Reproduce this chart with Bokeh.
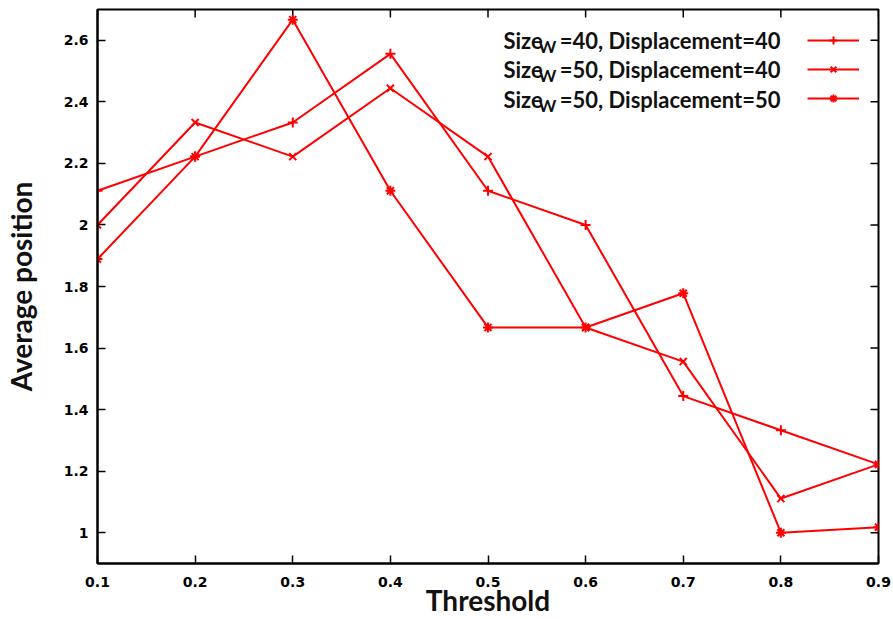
import math
from bokeh.plotting import figure
from bokeh.models import (Range1d, FixedTicker, CustomJSTickFormatter,
                          Label, Legend, LegendItem)
from bokeh.core.properties import value
from bokeh.embed import file_html
from bokeh.resources import INLINE

# ---- data ----
threshold = [0.1, 0.2, 0.3, 0.4, 0.5, 0.6, 0.7, 0.8, 0.9]
s40_d40 = [2.111, 2.222, 2.333, 2.556, 2.111, 2.000, 1.444, 1.333, 1.222]
s50_d40 = [2.000, 2.333, 2.222, 2.444, 2.222, 1.667, 1.556, 1.111, 1.222]
s50_d50 = [1.889, 2.222, 2.667, 2.111, 1.667, 1.667, 1.778, 1.000, 1.018]
x_ticks = [0.1, 0.2, 0.3, 0.4, 0.5, 0.6, 0.7, 0.8, 0.9]
y_ticks = [1.0, 1.2, 1.4, 1.6, 1.8, 2.0, 2.2, 2.4, 2.6]
size_w = ["40", "50", "50"]
displacement = ["40", "40", "50"]
series = [s40_d40, s50_d40, s50_d50]
markers = ["cross", "x", "asterisk"]
X_MIN, X_MAX = 0.1, 0.9
Y_MIN, Y_MAX = 0.9, 2.7

RED = "#ff0000"
TXT = "#111111"
LABEL_FONT = "Lato"
TICK_FONT = "DejaVu Sans"

p = figure(width=892, height=619, output_backend="svg", toolbar_location=None,
           x_range=Range1d(X_MIN, X_MAX), y_range=Range1d(Y_MIN, Y_MAX),
           min_border_left=97, min_border_right=14, min_border_top=9, min_border_bottom=56,
           x_axis_label="Threshold", y_axis_label="Average position")
p.grid.visible = False
p.outline_line_color = "black"
p.outline_line_width = 2
p.background_fill_color = "white"
p.border_fill_color = "white"

fmt = CustomJSTickFormatter(code="return String(Math.round(tick*10)/10);")

for ax, ticks in ((p.xaxis[0], x_ticks), (p.yaxis[0], y_ticks)):
    ax.ticker = FixedTicker(ticks=ticks)
    ax.formatter = fmt
    ax.axis_line_color = "black"
    ax.axis_line_width = 2
    ax.major_tick_line_color = "black"
    ax.major_tick_line_width = 1.5
    ax.major_tick_in = 8
    ax.major_tick_out = 0
    ax.minor_tick_line_color = None
    ax.major_label_text_font = TICK_FONT
    ax.major_label_text_font_style = "bold"
    ax.major_label_text_font_size = "14px"
    ax.major_label_text_color = "black"
    ax.axis_label_text_font = LABEL_FONT
    ax.axis_label_text_font_style = "bold"
    ax.axis_label_text_font_size = "28px"
    ax.axis_label_text_color = TXT
p.xaxis[0].major_label_standoff = 13
p.xaxis[0].axis_label_standoff = -7
p.yaxis[0].major_label_standoff = 9
p.yaxis[0].axis_label_standoff = 23

# mirror ticks on the top and right borders
p.ray(x=x_ticks, y=[Y_MAX] * len(x_ticks), length=8, length_units="screen",
      angle=-math.pi / 2, line_color="black", line_width=1.5)
p.ray(x=[X_MAX] * len(y_ticks), y=y_ticks, length=8, length_units="screen",
      angle=math.pi, line_color="black", line_width=1.5)

items = []
for ys, m in zip(series, markers):
    ln = p.line(threshold, ys, line_color=RED, line_width=2)
    sc = p.scatter(threshold, ys, marker=m, size=10, line_color=RED,
                   fill_color=RED, line_width=2)
    items.append(LegendItem(label=value(" "), renderers=[ln, sc]))

legend = Legend(items=items, location=(710, 455), glyph_width=52, glyph_height=20,
                label_height=20, spacing=9, padding=0, margin=0,
                border_line_alpha=0, background_fill_alpha=0,
                label_text_font_size="12px", label_standoff=0)
p.add_layout(legend)

for i in range(3):
    yc = 523 - i * 29.25
    p.add_layout(Label(x=406, y=yc, x_units="screen", y_units="screen", text="Size",
                       text_font=LABEL_FONT, text_font_style="bold", text_font_size="22px",
                       text_color=TXT, text_baseline="middle", text_align="left"))
    p.add_layout(Label(x=441, y=yc - 6, x_units="screen", y_units="screen", text="W",
                       text_font=LABEL_FONT, text_font_style="bold", text_font_size="17px",
                       text_color=TXT, text_baseline="middle", text_align="left"))
    p.add_layout(Label(x=683, y=yc, x_units="screen", y_units="screen",
                       text=f"={size_w[i]}, Displacement={displacement[i]}",
                       text_font=LABEL_FONT, text_font_style="bold", text_font_size="22px",
                       text_color=TXT, text_baseline="middle", text_align="right"))

open("out.html", "w").write(file_html(p, INLINE))
